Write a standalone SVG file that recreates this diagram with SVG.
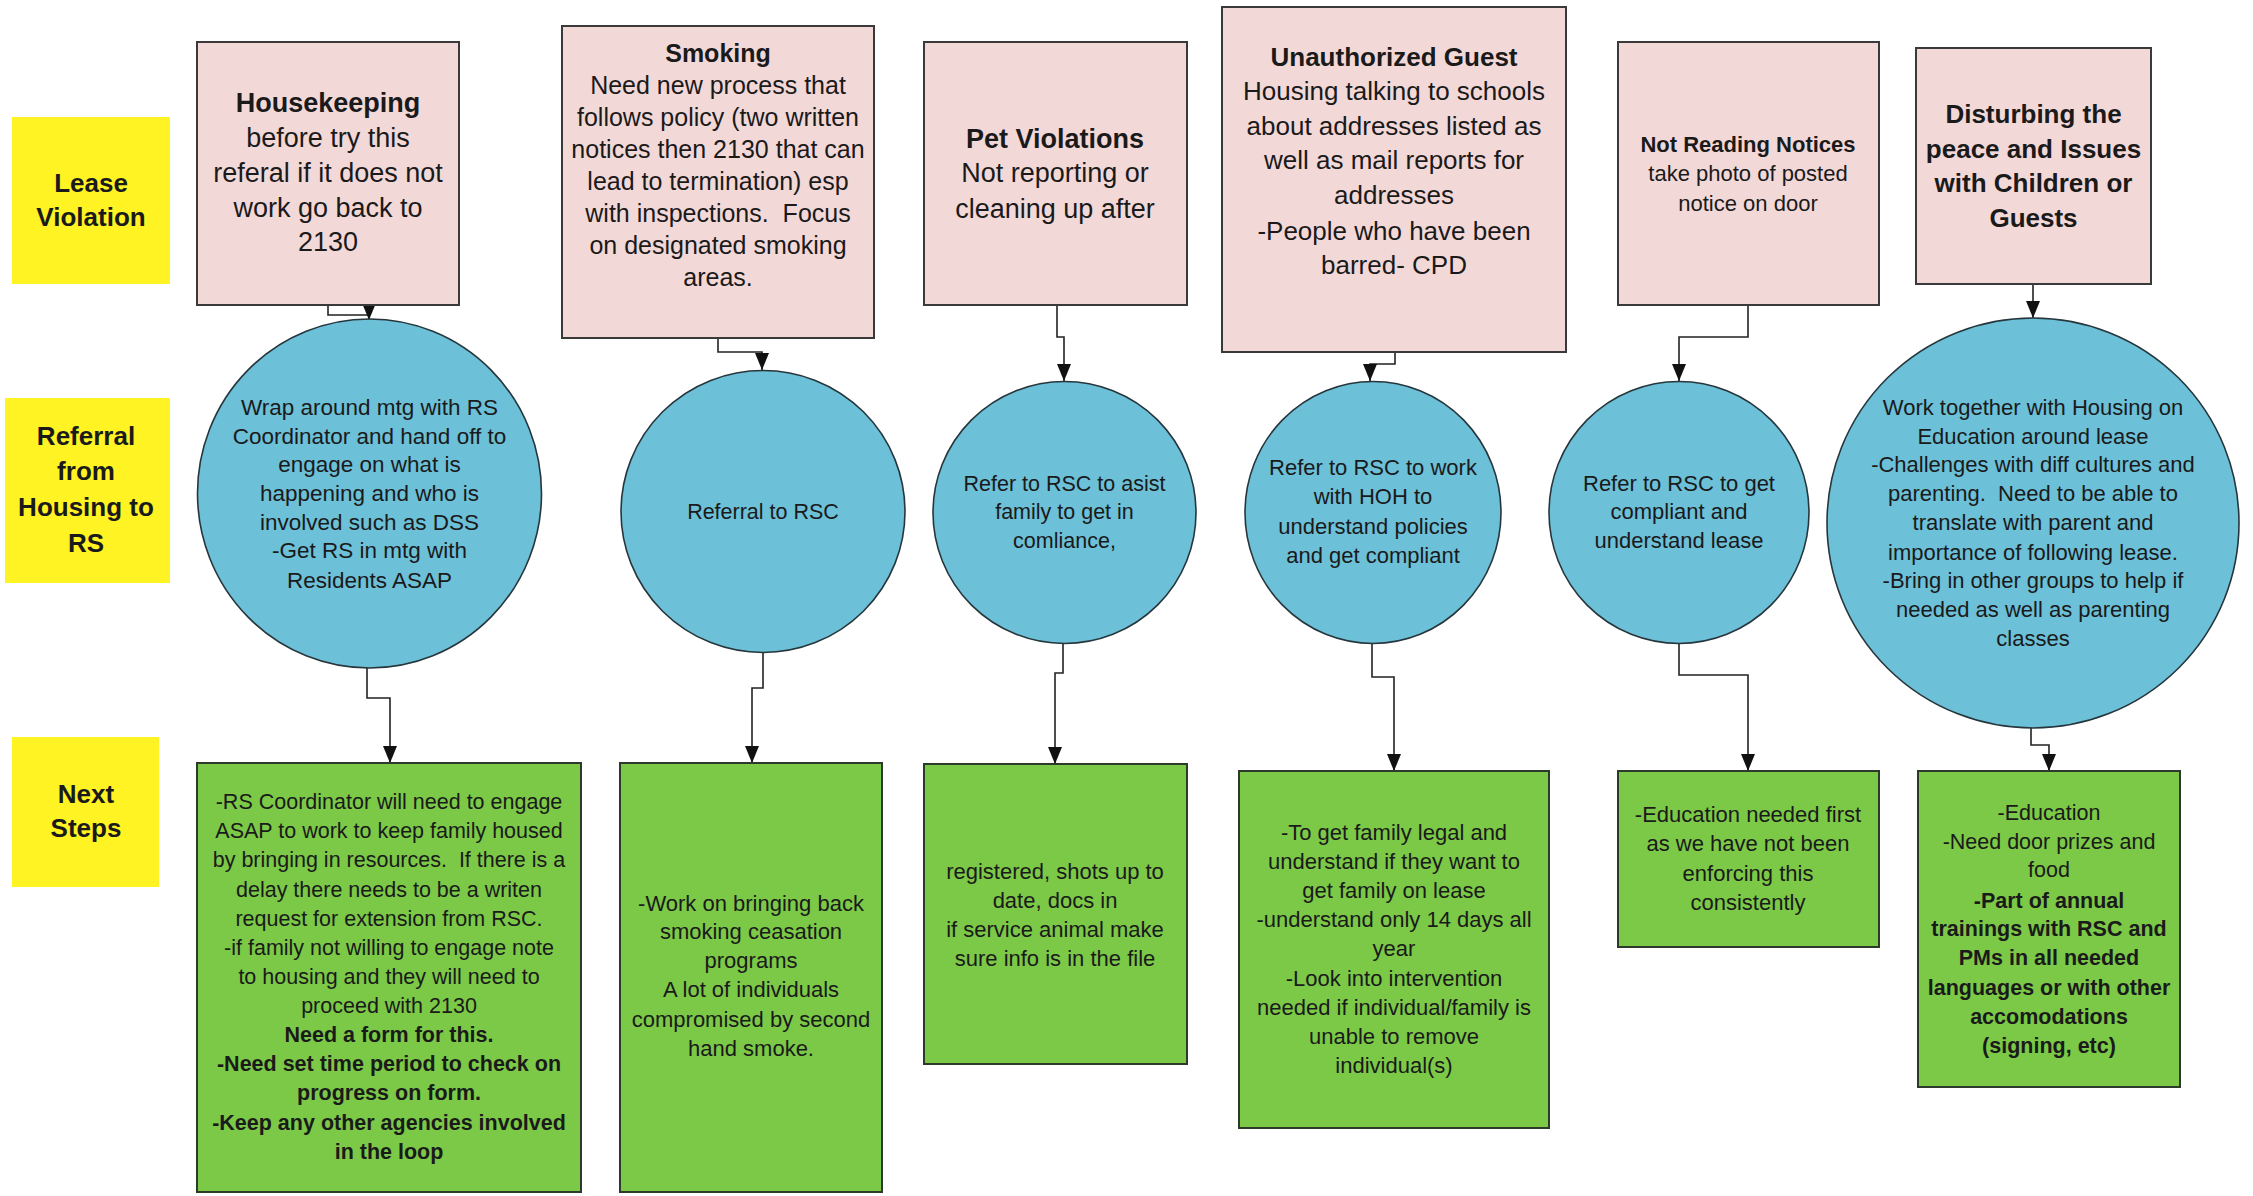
<svg xmlns="http://www.w3.org/2000/svg" width="2253" height="1196" viewBox="0 0 2253 1196">
<style>
.pink{fill:#f3d8d8;stroke:#3a3a3a;stroke-width:2}
.blue{fill:#6cc0d8;stroke:#26363c;stroke-width:1.6}
.green{fill:#7bc947;stroke:#2d3a2a;stroke-width:2}
.yellow{fill:#fff323}
text{font-family:"Liberation Sans",Arial,sans-serif;fill:#1a1a1a;text-anchor:middle}
.b{font-weight:bold}
.conn{fill:none;stroke:#222;stroke-width:1.6;marker-end:url(#arr)}
</style>
<defs>
<marker id="arr" markerUnits="userSpaceOnUse" markerWidth="17" markerHeight="14" refX="17" refY="7" orient="auto">
<path d="M0,0 L17,7 L0,14 z" fill="#111"/>
</marker>
</defs>
<rect width="2253" height="1196" fill="#ffffff"/>

<g id="lbl-lease">
<rect class="yellow" x="12" y="117" width="158" height="167"/>
<text class="b" font-size="26"><tspan x="91" y="191.5">Lease</tspan><tspan x="91" y="226">Violation</tspan></text>
</g>
<g id="lbl-referral">
<rect class="yellow" x="5" y="398" width="165" height="185"/>
<text class="b" font-size="26"><tspan x="86" y="445">Referral</tspan><tspan x="86" y="480">from</tspan><tspan x="86" y="516">Housing to</tspan><tspan x="86" y="552">RS</tspan></text>
</g>
<g id="lbl-next">
<rect class="yellow" x="12" y="737" width="147" height="150"/>
<text class="b" font-size="26"><tspan x="86" y="803">Next</tspan><tspan x="86" y="837">Steps</tspan></text>
</g>

<g id="connectors">
<path class="conn" d="M328,305 V315 H369 V320"/>
<path class="conn" d="M718,338 V352 H762 V370"/>
<path class="conn" d="M1057,305 V337 H1064 V381"/>
<path class="conn" d="M1395,352 V364 H1370 V381"/>
<path class="conn" d="M1748,305 V337 H1679 V381"/>
<path class="conn" d="M2033,284 V318"/>
<path class="conn" d="M367,668 V698 H390 V763"/>
<path class="conn" d="M763,653 V688 H752 V763"/>
<path class="conn" d="M1063,643 V673 H1055 V764"/>
<path class="conn" d="M1372,643 V677 H1394 V771"/>
<path class="conn" d="M1679,643 V675 H1748 V771"/>
<path class="conn" d="M2031,728 V745 H2049 V771"/>
</g>

<g id="v-housekeeping">
<rect class="pink" x="197" y="42" width="262" height="263"/>
<text font-size="27"><tspan class="b" x="328" y="112">Housekeeping</tspan><tspan x="328" y="147">before try this</tspan><tspan x="328" y="182">referal if it does not</tspan><tspan x="328" y="217">work go back to</tspan><tspan x="328" y="251">2130</tspan></text>
</g>
<g id="v-smoking">
<rect class="pink" x="562" y="26" width="312" height="312"/>
<text font-size="25"><tspan class="b" x="718" y="61.5">Smoking</tspan><tspan x="718" y="93.5">Need new process that</tspan><tspan x="718" y="126">follows policy (two written</tspan><tspan x="718" y="157.5">notices then 2130 that can</tspan><tspan x="718" y="189.5">lead to termination) esp</tspan><tspan x="718" y="222">with inspections.&#160; Focus</tspan><tspan x="718" y="254">on designated smoking</tspan><tspan x="718" y="285.5">areas.</tspan></text>
</g>
<g id="v-pet">
<rect class="pink" x="924" y="42" width="263" height="263"/>
<text font-size="27"><tspan class="b" x="1055" y="147.5">Pet Violations</tspan><tspan x="1055" y="182">Not reporting or</tspan><tspan x="1055" y="217.5">cleaning up after</tspan></text>
</g>
<g id="v-guest">
<rect class="pink" x="1222" y="7" width="344" height="345"/>
<text font-size="26"><tspan class="b" x="1394" y="65.5">Unauthorized Guest</tspan><tspan x="1394" y="100">Housing talking to schools</tspan><tspan x="1394" y="134.5">about addresses listed as</tspan><tspan x="1394" y="169">well as mail reports for</tspan><tspan x="1394" y="203.5">addresses</tspan><tspan x="1394" y="239.5">-People who have been</tspan><tspan x="1394" y="274">barred- CPD</tspan></text>
</g>
<g id="v-notices">
<rect class="pink" x="1618" y="42" width="261" height="263"/>
<text font-size="22"><tspan class="b" x="1748" y="151.5">Not Reading Notices</tspan><tspan x="1748" y="180.5">take photo of posted</tspan><tspan x="1748" y="210.5">notice on door</tspan></text>
</g>
<g id="v-disturbing">
<rect class="pink" x="1916" y="48" width="235" height="236"/>
<text class="b" font-size="26"><tspan x="2033.5" y="123">Disturbing the</tspan><tspan x="2033.5" y="157.5">peace and Issues</tspan><tspan x="2033.5" y="192">with Children or</tspan><tspan x="2033.5" y="226.5">Guests</tspan></text>
</g>

<g id="r-housekeeping">
<ellipse class="blue" cx="369.5" cy="493.5" rx="172" ry="174.5"/>
<text font-size="22.5"><tspan x="369.5" y="414.5">Wrap around mtg with RS</tspan><tspan x="369.5" y="443.5">Coordinator and hand off to</tspan><tspan x="369.5" y="472">engage on what is</tspan><tspan x="369.5" y="501">happening and who is</tspan><tspan x="369.5" y="529.5">involved such as DSS</tspan><tspan x="369.5" y="558">-Get RS in mtg with</tspan><tspan x="369.5" y="588">Residents ASAP</tspan></text>
</g>
<g id="r-smoking">
<ellipse class="blue" cx="763" cy="511.5" rx="142" ry="141"/>
<text font-size="21.5"><tspan x="763" y="519">Referral to RSC</tspan></text>
</g>
<g id="r-pet">
<ellipse class="blue" cx="1064.5" cy="512.5" rx="131.5" ry="131"/>
<text font-size="21.5"><tspan x="1064.5" y="490.5">Refer to RSC to asist</tspan><tspan x="1064.5" y="519">family to get in</tspan><tspan x="1064.5" y="548">comliance,</tspan></text>
</g>
<g id="r-guest">
<ellipse class="blue" cx="1373" cy="512.5" rx="128" ry="131"/>
<text font-size="22"><tspan x="1373" y="475">Refer to RSC to work</tspan><tspan x="1373" y="503.5">with HOH to</tspan><tspan x="1373" y="533.5">understand policies</tspan><tspan x="1373" y="562.5">and get compliant</tspan></text>
</g>
<g id="r-notices">
<ellipse class="blue" cx="1679" cy="512.5" rx="130" ry="131"/>
<text font-size="22"><tspan x="1679" y="490.5">Refer to RSC to get</tspan><tspan x="1679" y="519">compliant and</tspan><tspan x="1679" y="548">understand lease</tspan></text>
</g>
<g id="r-disturbing">
<ellipse class="blue" cx="2033" cy="523" rx="206" ry="205"/>
<text font-size="22"><tspan x="2033" y="414.5">Work together with Housing on</tspan><tspan x="2033" y="443.5">Education around lease</tspan><tspan x="2033" y="472">-Challenges with diff cultures and</tspan><tspan x="2033" y="501">parenting.&#160; Need to be able to</tspan><tspan x="2033" y="529.5">translate with parent and</tspan><tspan x="2033" y="559.5">importance of following lease.</tspan><tspan x="2033" y="588">-Bring in other groups to help if</tspan><tspan x="2033" y="617">needed as well as parenting</tspan><tspan x="2033" y="646">classes</tspan></text>
</g>

<g id="n-housekeeping">
<rect class="green" x="197" y="763" width="384" height="429"/>
<text font-size="21.5"><tspan x="389" y="809">-RS Coordinator will need to engage</tspan><tspan x="389" y="838">ASAP to work to keep family housed</tspan><tspan x="389" y="867">by bringing in resources.&#160; If there is a</tspan><tspan x="389" y="896.5">delay there needs to be a writen</tspan><tspan x="389" y="925.5">request for extension from RSC.</tspan><tspan x="389" y="954.5">-if family not willing to engage note</tspan><tspan x="389" y="983.5">to housing and they will need to</tspan><tspan x="389" y="1013">proceed with 2130</tspan><tspan class="b" x="389" y="1042">Need a form for this.</tspan><tspan class="b" x="389" y="1071">-Need set time period to check on</tspan><tspan class="b" x="389" y="1100">progress on form.</tspan><tspan class="b" x="389" y="1129.5">-Keep any other agencies involved</tspan><tspan class="b" x="389" y="1158.5">in the loop</tspan></text>
</g>
<g id="n-smoking">
<rect class="green" x="620" y="763" width="262" height="429"/>
<text font-size="22"><tspan x="751" y="910.5">-Work on bringing back</tspan><tspan x="751" y="939">smoking ceasation</tspan><tspan x="751" y="968">programs</tspan><tspan x="751" y="997">A lot of individuals</tspan><tspan x="751" y="1026.5">compromised by second</tspan><tspan x="751" y="1055.5">hand smoke.</tspan></text>
</g>
<g id="n-pet">
<rect class="green" x="924" y="764" width="263" height="300"/>
<text font-size="22"><tspan x="1055" y="879">registered, shots up to</tspan><tspan x="1055" y="908">date, docs in</tspan><tspan x="1055" y="937">if service animal make</tspan><tspan x="1055" y="966">sure info is in the file</tspan></text>
</g>
<g id="n-guest">
<rect class="green" x="1239" y="771" width="310" height="357"/>
<text font-size="22"><tspan x="1394" y="839.5">-To get family legal and</tspan><tspan x="1394" y="868.5">understand if they want to</tspan><tspan x="1394" y="898">get family on lease</tspan><tspan x="1394" y="927">-understand only 14 days all</tspan><tspan x="1394" y="956">year</tspan><tspan x="1394" y="985.5">-Look into intervention</tspan><tspan x="1394" y="1014.5">needed if individual/family is</tspan><tspan x="1394" y="1043.5">unable to remove</tspan><tspan x="1394" y="1073">individual(s)</tspan></text>
</g>
<g id="n-notices">
<rect class="green" x="1618" y="771" width="261" height="176"/>
<text font-size="22"><tspan x="1748" y="822">-Education needed first</tspan><tspan x="1748" y="851">as we have not been</tspan><tspan x="1748" y="881">enforcing this</tspan><tspan x="1748" y="909.5">consistently</tspan></text>
</g>
<g id="n-disturbing">
<rect class="green" x="1918" y="771" width="262" height="316"/>
<text font-size="21.5"><tspan x="2049" y="819.5">-Education</tspan><tspan x="2049" y="849">-Need door prizes and</tspan><tspan x="2049" y="877">food</tspan><tspan class="b" x="2049" y="908">-Part of annual</tspan><tspan class="b" x="2049" y="936">trainings with RSC and</tspan><tspan class="b" x="2049" y="965">PMs in all needed</tspan><tspan class="b" x="2049" y="994.5">languages or with other</tspan><tspan class="b" x="2049" y="1024">accomodations</tspan><tspan class="b" x="2049" y="1053">(signing, etc)</tspan></text>
</g>
</svg>
